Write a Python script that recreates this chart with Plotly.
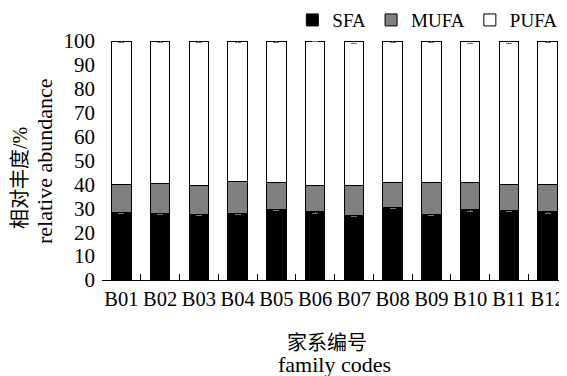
import plotly.graph_objects as go

categories = ["B01", "B02", "B03", "B04", "B05", "B06", "B07", "B08", "B09", "B10", "B11", "B12"]
sfa = [28.2, 28.0, 27.6, 27.7, 29.4, 28.5, 27.1, 30.3, 27.5, 29.4, 29.0, 28.5]
mufa = [11.8, 12.5, 12.0, 13.7, 11.4, 11.1, 12.5, 10.7, 13.1, 11.4, 11.0, 11.5]
pufa = [60.0, 59.5, 60.4, 58.6, 59.2, 60.4, 60.4, 59.0, 59.4, 59.2, 60.0, 60.0]
sfa_err = [0.5, 0.5, 0.6, 0.5, 0.4, 0.5, 0.6, 0.5, 0.6, 0.6, 0.5, 0.5]
mufa_err = [0.3, 0.3, 0.3, 0.3, 0.3, 0.3, 0.3, 0.3, 0.3, 0.4, 0.3, 0.3]
pufa_err = [0.5, 0.5, 0.5, 0.5, 0.5, 0.3, 1.2, 0.5, 0.5, 1.2, 1.2, 0.5]
y_ticks = [0, 10, 20, 30, 40, 50, 60, 70, 80, 90, 100]

FONT = "'Liberation Serif', 'Noto Sans CJK SC', serif"
ERR = dict(type="data", visible=True, color="#777777", thickness=1, width=3)

fig = go.Figure()
for name, vals, errs, col in [("SFA", sfa, sfa_err, "#000000"),
                               ("MUFA", mufa, mufa_err, "#808080"),
                               ("PUFA", pufa, pufa_err, "#ffffff")]:
    fig.add_trace(go.Bar(
        x=categories, y=vals, name=name,
        marker=dict(color=col, line=dict(color="#000000", width=1)),
        error_y=dict(array=errs, **ERR),
    ))

# category boundary positions for the inside tick marks
n = len(categories)
boundaries = [i - 0.5 for i in range(n + 1)]
fig.add_trace(go.Scatter(x=boundaries, y=[0] * len(boundaries), xaxis="x2", yaxis="y",
                         mode="markers", marker=dict(opacity=0, size=1),
                         showlegend=False, hoverinfo="skip"))

# page has an 8px body margin, so the figure is sized/offset to compensate
fig.update_layout(
    width=559, height=368,
    margin=dict(l=94, r=0, t=33, b=96, autoexpand=False),
    barmode="stack", bargap=0.5,
    paper_bgcolor="white", plot_bgcolor="white",
    font=dict(family=FONT, size=21, color="#000000"),
    showlegend=True,
    legend=dict(orientation="h", x=0.99, xanchor="right", y=1.167, yanchor="top",
                xref="paper", yref="paper", font=dict(size=19), traceorder="normal",
                itemwidth=30, bgcolor="rgba(0,0,0,0)"),
    xaxis=dict(showline=True, linecolor="#000000", linewidth=1,
               ticks="inside", tickson="boundaries", ticklen=6, tickwidth=1,
               tickcolor="#000000", tickfont=dict(size=20.5), tickangle=0,
               showgrid=False, automargin=False, range=[-0.5, n - 0.5]),
    xaxis2=dict(overlaying="x", anchor="y", side="bottom", type="linear",
                range=[-0.5, n - 0.5], tickmode="array", tickvals=boundaries,
                ticks="inside", ticklen=6, tickwidth=1, tickcolor="#000000",
                showticklabels=False, showline=False, showgrid=False, zeroline=False,
                automargin=False),
    yaxis=dict(range=[0, 100], tickvals=y_ticks, showline=False, showgrid=False,
               zeroline=False, ticks="", ticklabelstandoff=6, tickfont=dict(size=21),
               automargin=False),
    annotations=[
        dict(text="相对丰度/%", textangle=-90, xref="paper", yref="paper",
             x=-0.176, y=0.427, xanchor="center", yanchor="middle", showarrow=False,
             font=dict(size=20)),
        dict(text="relative abundance", textangle=-90, xref="paper", yref="paper",
             x=-0.1226, y=0.498, xanchor="center", yanchor="middle", showarrow=False,
             font=dict(size=22)),
        dict(text="家系编号", xref="paper", yref="paper",
             x=0.484, y=-0.262, xanchor="center", yanchor="middle", showarrow=False,
             font=dict(size=20)),
        dict(text="family codes", xref="paper", yref="paper",
             x=0.5, y=-0.355, xanchor="center", yanchor="middle", showarrow=False,
             font=dict(size=22)),
    ],
)

fig.write_html("out.html")
